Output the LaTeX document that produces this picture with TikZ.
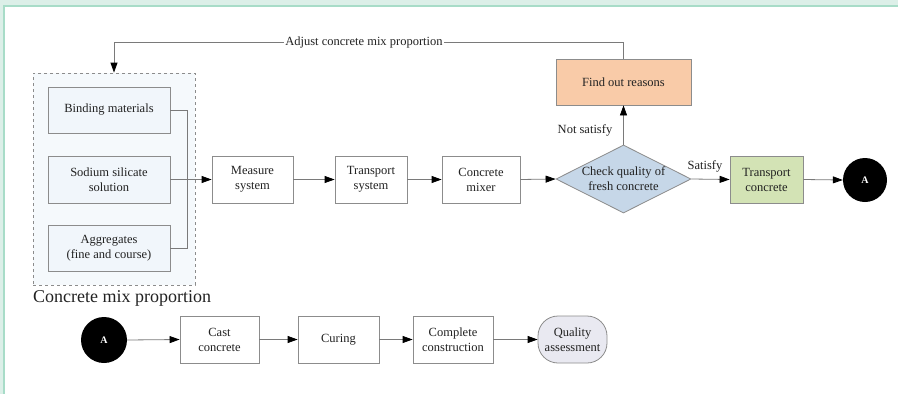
\documentclass[tikz,border=0pt]{standalone}
\usepackage{fontspec}
\setmainfont{Liberation Serif}
\usetikzlibrary{arrows.meta,shapes.geometric}
\definecolor{mintbg}{HTML}{DCEFE8}
\definecolor{mintline}{HTML}{A8DCC8}
\definecolor{bordergray}{HTML}{8C8C8C}
\definecolor{linegray}{HTML}{7A7A7A}
\definecolor{grpfill}{HTML}{F5F9FC}
\definecolor{infill}{HTML}{F1F6FB}
\definecolor{orangefill}{HTML}{F9CBA8}
\definecolor{bluefill}{HTML}{C6D7E8}
\definecolor{greenfill}{HTML}{D3E3B5}
\definecolor{qafill}{HTML}{E9E9F1}
\definecolor{txt}{HTML}{222222}
\newcommand{\nodefont}{\fontsize{12.5}{15}\selectfont}
\begin{document}
\begin{tikzpicture}[x=1pt,y=-1pt,
  box/.style={draw=bordergray,line width=0.8pt,fill=white,inner sep=0pt,align=center,
    font=\nodefont,text=txt,minimum height=47pt},
  conn/.style={draw=linegray,line width=0.8pt},
  arr/.style={conn,-{Triangle[length=10pt,width=7pt,fill=black,color=black]}},
  circ/.style={circle,fill=black,inner sep=0pt,text=white,font=\fontsize{10}{11}\selectfont\bfseries}
]
% background
\fill[white] (0,0) rectangle (898,394);
\fill[mintbg] (0,0) rectangle (898,5);
\fill[mintbg] (0,0) rectangle (3,394);
\fill[mintline] (3,5) rectangle (898,6.5);
\fill[mintline] (3,5) rectangle (5,394);
\useasboundingbox (0,0) rectangle (898,394);

% group
\node[draw=bordergray,dashed,line width=0.8pt,fill=grpfill,minimum width=162pt,minimum height=212pt,inner sep=0pt] (grp) at (114,179) {};
\node[anchor=west,font=\fontsize{18}{20}\selectfont,text=txt,inner sep=0pt] (grplbl) at (33,298) {Concrete mix proportion};

\node[box,fill=infill,minimum width=122pt,minimum height=46pt] (bind) at (109,110) {Binding materials};
\node[box,fill=infill,minimum width=122pt] (sod) at (109,179.5) {Sodium silicate\\solution};
\node[box,fill=infill,minimum width=122pt,minimum height=46pt] (agg) at (109,248) {Aggregates\\(fine and course)};

\node[box,minimum width=81pt] (meas) at (252.5,179.5) {Measure\\system};
\node[box,minimum width=72pt] (tsys) at (371,179.5) {Transport\\system};
\node[box,minimum width=78pt] (mix) at (481,179.5) {Concrete\\mixer};
\node[diamond,aspect=2,draw=bordergray,line width=0.8pt,fill=bluefill,inner sep=0pt,
  minimum width=135pt,minimum height=68pt,align=center,font=\nodefont,text=txt] (chk) at (623.5,179) {Check quality of\\fresh concrete};
\node[box,fill=orangefill,minimum width=135pt,minimum height=46pt] (find) at (623.5,82) {Find out reasons};
\node[box,fill=greenfill,minimum width=73pt] (tcon) at (766.5,179.5) {Transport\\concrete};
\node[circ,minimum size=44pt] (a1) at (865,180) {A};

\node[circ,minimum size=46pt] (a2) at (104,340) {A};
\node[box,minimum width=79pt] (cast) at (219.5,339.5) {Cast\\concrete};
\node[box,minimum width=81pt] (cur) at (338.5,339.5) {Curing};
\node[box,minimum width=80pt] (comp) at (453,339.5) {Complete\\construction};
\node[box,fill=qafill,minimum width=69pt,rounded corners=20pt] (qa) at (572.5,339.5) {Quality\\assessment};

% connectors
\coordinate (bt) at (187,110);
\coordinate (bb) at (187,248);
\draw[conn] (bind.east) -- (bt) -- (bb) -- (agg.east);
\draw[arr] (sod.east) -- (meas.west);
\draw[arr] (meas.east) -- (tsys.west);
\draw[arr] (tsys.east) -- (mix.west);
\draw[arr] (mix.east) -- (chk.west);
\draw[arr] (chk.north) -- (find.south);
\draw[arr] (chk.east) -- (tcon.west);
\draw[arr] (tcon.east) -- (a1.west);

\coordinate (f1) at (623.5,42);
\coordinate (f2) at (114,42);
\draw[arr] (find.north) -- (f1) -- (f2) -- (grp.north);
\node[fill=white,inner sep=1pt,font=\nodefont,text=txt] (adj) at (364,42) {Adjust concrete mix proportion};

\node[font=\nodefont,text=txt,inner sep=0pt] (ns) at (585,130) {Not satisfy};
\node[font=\nodefont,text=txt,inner sep=0pt] (sat) at (705,166) {Satisfy};

\draw[arr] (a2.east) -- (cast.west);
\draw[arr] (cast.east) -- (cur.west);
\draw[arr] (cur.east) -- (comp.west);
\draw[arr] (comp.east) -- (qa.west);
\end{tikzpicture}
\end{document}
